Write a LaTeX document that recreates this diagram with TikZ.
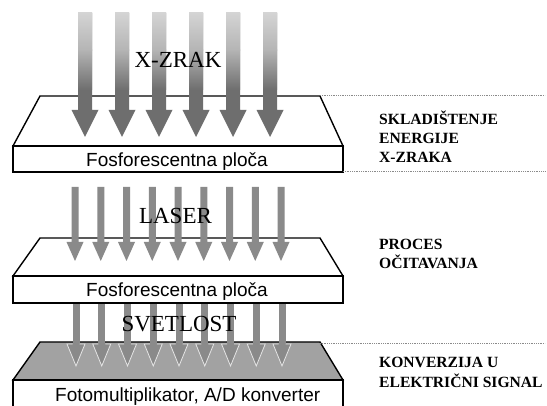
\documentclass[tikz,border=0pt]{standalone}
\usepackage{fontspec}
\setmainfont{Liberation Serif}
\newfontfamily\arialfont{Liberation Sans}
\definecolor{xlight}{HTML}{D4D4D4}
\definecolor{xmid}{HTML}{B4B4B4}
\definecolor{xdark}{HTML}{6E6E6E}
\definecolor{lgray}{HTML}{8A8A8A}
\definecolor{facegray}{HTML}{A2A2A2}
\definecolor{dotgray}{HTML}{8A8A8A}
\tikzset{
  platebox/.style={draw=black, line width=1.4pt, fill=white, line join=miter},
  dotline/.style={draw=dotgray, line width=0.9pt, dash pattern=on 0.9pt off 0.9pt},
  beamlabel/.style={font=\fontsize{23}{26}\selectfont, inner sep=0pt, anchor=base},
  platelabel/.style={font=\arialfont\fontsize{19}{22}\selectfont, inner sep=0pt, anchor=base},
  sidelabel/.style={font=\bfseries\fontsize{15.6}{19}\selectfont, inner sep=0pt, anchor=base west},
}
\begin{document}
\begin{tikzpicture}[x=1pt,y=-1pt]
\useasboundingbox (0,0) rectangle (547,406);
\clip (0,0) rectangle (547,406);
\fill[white] (0,0) rectangle (547,406);

% ---------- plate 1
\draw[platebox] (40,96) -- (320,96) -- (343,146) -- (13,146) -- cycle;
\draw[platebox] (13,146) rectangle (343,172);
\node[platelabel] (p1) at (177,167) {Fosforescentna plo\v{c}a};

% X-ray arrows
\foreach \cx in {85,122,159,196,233,270}{
  \fill[xdark] (\cx-7,13) -- (\cx+7,13) -- (\cx+7,110) -- (\cx+13.5,110)
     -- (\cx,137) -- (\cx-13.5,110) -- (\cx-7,110) -- cycle;
  \shade[top color=xlight, bottom color=xmid] (\cx-7,13) rectangle (\cx+7,50.5);
  \shade[top color=xmid, bottom color=xdark] (\cx-7,50) rectangle (\cx+7,90);
}
\node[beamlabel] (xr) at (178,68) {X-ZRAK};

% ---------- plate 2
\draw[platebox] (40,238) -- (320,238) -- (343,276) -- (13,276) -- cycle;
\draw[platebox] (13,276) rectangle (343,303);
\node[platelabel] (p2) at (177,297) {Fosforescentna plo\v{c}a};

% laser arrows
\foreach \i in {0,...,8}{
  \pgfmathsetmacro{\cx}{75+25.75*\i}
  \fill[lgray] (\cx-3.5,187) -- (\cx+3.5,187) -- (\cx+3.5,242) -- (\cx+8.5,242)
     -- (\cx,261) -- (\cx-8.5,242) -- (\cx-3.5,242) -- cycle;
}
\node[beamlabel] (ls) at (175.5,224) {LASER};

% ---------- plate 3
\draw[platebox, fill=facegray] (40,342) -- (320,342) -- (343,380) -- (13,380) -- cycle;
\draw[platebox] (13,412) -- (13,380) -- (343,380) -- (343,412);
\node[platelabel, anchor=base west] (p3) at (55,402) {Fotomultiplikator, A/D konverter};

% light arrows
\foreach \i in {0,...,8}{
  \pgfmathsetmacro{\cx}{76+25.75*\i}
  \fill[lgray] (\cx-3.5,304) rectangle (\cx+3.5,344);
  \draw[fill=lgray, draw=white!80!gray, line width=0.8pt]
     (\cx-3.5,344) -- (\cx-9,344) -- (\cx,366) -- (\cx+9,344) -- (\cx+3.5,344);
}
\node[beamlabel] (sv) at (179,332) {SVETLOST};

% ---------- dotted separators
\coordinate (d1a) at (320,95);  \coordinate (d1b) at (545,95);
\coordinate (d2a) at (343,171); \coordinate (d2b) at (545,171);
\coordinate (d3a) at (320,343); \coordinate (d3b) at (545,343);
\draw[dotline] (d1a) -- (d1b);
\draw[dotline] (d2a) -- (d2b);
\draw[dotline] (d3a) -- (d3b);

% ---------- side labels
\node[sidelabel] (s1) at (379,125) {SKLADI\v{S}TENJE};
\node[sidelabel] (s2) at (379,144) {ENERGIJE};
\node[sidelabel] (s3) at (379,163) {X-ZRAKA};
\node[sidelabel] (s4) at (379,250) {PROCES};
\node[sidelabel] (s5) at (379,269) {O\v{C}ITAVANJA};
\node[sidelabel] (s6) at (379,368) {KONVERZIJA U};
\node[sidelabel] (s7) at (379,388) {ELEKTRI\v{C}NI SIGNAL};
\end{tikzpicture}
\end{document}
